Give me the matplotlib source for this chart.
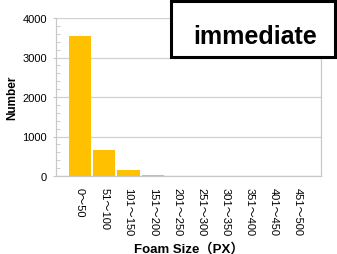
import matplotlib
matplotlib.use("Agg")
import matplotlib.pyplot as plt
from matplotlib.patches import Rectangle
from matplotlib.ticker import MultipleLocator

categories = ["0〜50", "51〜100", "101〜150", "151〜200", "201〜250",
              "251〜300", "301〜350", "351〜400", "401〜450", "451〜500"]
counts = [3550, 670, 140, 30, 8, 6, 0, 0, 0, 0]
yticks = [0, 1000, 2000, 3000, 4000]

W, H = 337, 255
fig = plt.figure(figsize=(W / 100, H / 100), dpi=100)
fam = ["Liberation Sans", "Noto Sans CJK JP", "DejaVu Sans"]

ax = fig.add_axes([56.5 / W, 1 - 177 / H, (321 - 56.5) / W, (177 - 19) / H])
x = list(range(len(categories)))
ax.bar(x, counts, width=0.92, color="#FFC000", zorder=3)
ax.set_xlim(-0.97, 9.94)
ax.set_ylim(0, 4000)
ax.set_yticks(yticks)
ax.set_yticklabels([str(v) for v in yticks], family=fam, fontsize=8)
ax.yaxis.set_minor_locator(MultipleLocator(200))
ax.set_xticks(x)
ax.set_xticklabels(categories, rotation=-90, family=fam, fontsize=8,
                   va="top", ha="center")
ax.tick_params(axis="x", length=0, pad=8)
ax.tick_params(axis="y", which="major", length=2, color="#c8c8c8", pad=5)
ax.tick_params(axis="y", which="minor", direction="in", length=3, color="#c8c8c8")
ax.grid(axis="y", color="#d0d0d0", linewidth=0.9, zorder=0)
for s in ["left", "bottom", "right"]:
    ax.spines[s].set_color("#c8c8c8")
    ax.spines[s].set_linewidth(0.9)
ax.spines["top"].set_visible(False)

ax.set_xlabel("Foam Size（PX）", family=fam, fontsize=9.5, fontweight="bold",
              labelpad=5)
ax.set_ylabel("Number", family=fam, fontsize=8.5, fontweight="bold", labelpad=3)

# title box
box = Rectangle((171 / W, 1 - 58 / H), (335 - 171) / W, (58 - 2) / H,
                transform=fig.transFigure, facecolor="white", edgecolor="black",
                linewidth=2.2, zorder=10)
fig.patches.append(box)
fig.text(255 / W, 1 - 44 / H, "immediate", transform=fig.transFigure,
         ha="center", va="baseline", fontsize=18, fontweight="bold",
         family=["Liberation Sans", "DejaVu Sans"], zorder=11)

fig.savefig("out.png", dpi=100)
